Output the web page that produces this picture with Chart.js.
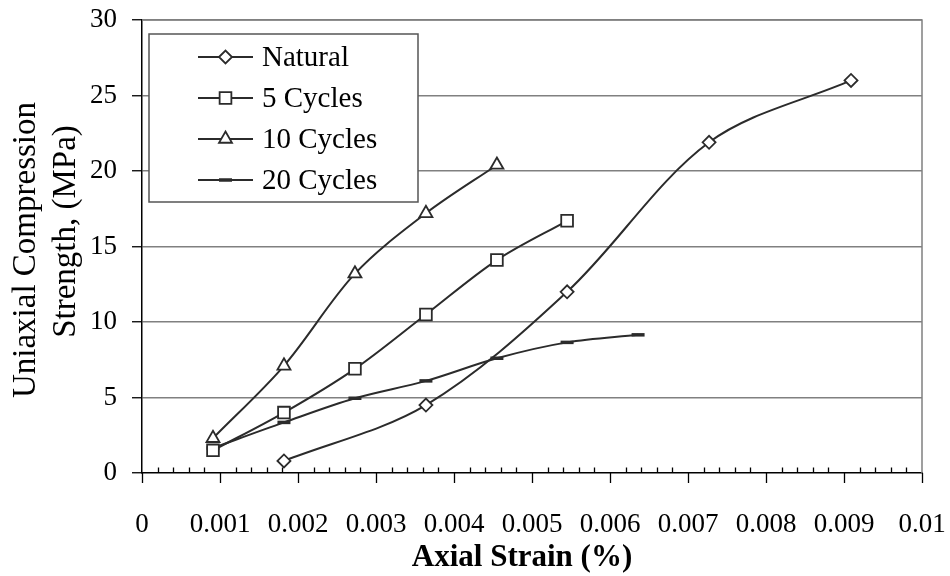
<!DOCTYPE html>
<html>
<head>
<meta charset="utf-8">
<script src="https://cdn.jsdelivr.net/npm/chart.js@4/dist/chart.umd.min.js"></script>
<style>
html,body{margin:0;padding:0;background:#fff;}
#wrap{width:950px;height:576px;position:relative;}
</style>
</head>
<body>
<div id="wrap"><canvas id="c" width="950" height="576"></canvas></div>
<script>
// ---- data ----
const seriesNames = ['Natural', '5 Cycles', '10 Cycles', '20 Cycles'];
const naturalStrain = [0.00182, 0.00364, 0.00545, 0.00727, 0.00909];
const naturalUCS    = [0.8, 4.5, 12.0, 21.9, 26.0];
const cycles5Strain = [0.00091, 0.00182, 0.00273, 0.00364, 0.00455, 0.00545];
const cycles5UCS    = [1.5, 4.0, 6.9, 10.5, 14.1, 16.7];
const cycles10Strain = [0.00091, 0.00182, 0.00273, 0.00364, 0.00455];
const cycles10UCS    = [2.3, 7.1, 13.2, 17.2, 20.4];
const cycles20Strain = [0.00091, 0.00182, 0.00273, 0.00364, 0.00455, 0.00545, 0.00636];
const cycles20UCS    = [1.65, 3.35, 4.95, 6.1, 7.6, 8.65, 9.15];
const xTickValues = [0, 0.001, 0.002, 0.003, 0.004, 0.005, 0.006, 0.007, 0.008, 0.009, 0.01];
const yTickValues = [0, 5, 10, 15, 20, 25, 30];
const xTitle = 'Axial Strain (%)';
const yTitle = ['Uniaxial Compression', 'Strength, (MPa)'];

const SERIF = "'Liberation Serif', 'Times New Roman', serif";
const INK = '#2b2b2b';

function pts(xs, ys) { return xs.map((x, i) => ({ x: x, y: ys[i] })); }

const styles = [
  { pointStyle: 'rectRot', pointRadius: 6.5, pointBorderWidth: 1.8 },
  { pointStyle: 'rect', pointRadius: 8.3, pointBorderWidth: 1.8 },
  { pointStyle: 'triangle', pointRadius: 7.5, pointBorderWidth: 1.8 },
  { pointStyle: 'line', pointRadius: 6.5, pointBorderWidth: 3.5 }
];
const dataPairs = [
  pts(naturalStrain, naturalUCS),
  pts(cycles5Strain, cycles5UCS),
  pts(cycles10Strain, cycles10UCS),
  pts(cycles20Strain, cycles20UCS)
];

const datasets = dataPairs.map((d, i) => Object.assign({
  label: seriesNames[i],
  data: d,
  borderColor: INK,
  borderWidth: 2,
  backgroundColor: '#ffffff',
  pointBackgroundColor: '#ffffff',
  pointBorderColor: INK,
  tension: 0.33,
  fill: false
}, styles[i]));

const decor = {
  id: 'decor',
  afterDraw(chart) {
    const ctx = chart.ctx;
    const ca = chart.chartArea;
    const xs = chart.scales.x;
    ctx.save();
    // top & right frame lines (gray)
    ctx.strokeStyle = '#808080';
    ctx.lineWidth = 1.5;
    ctx.beginPath();
    ctx.moveTo(ca.left, ca.top);
    ctx.lineTo(ca.right, ca.top);
    ctx.lineTo(ca.right, ca.bottom);
    ctx.stroke();
    // x axis ticks: major outward, minor inward
    ctx.strokeStyle = '#000';
    ctx.lineWidth = 1.3;
    ctx.beginPath();
    for (let i = 0; i <= 50; i++) {
      const px = Math.round(xs.getPixelForValue(i * 0.0002)) + 0.5;
      if (i % 5 === 0) {
        ctx.moveTo(px, ca.bottom);
        ctx.lineTo(px, ca.bottom + 10);
      } else {
        ctx.moveTo(px, ca.bottom);
        ctx.lineTo(px, ca.bottom - 5.5);
      }
    }
    ctx.stroke();
    // x title
    ctx.fillStyle = '#000';
    ctx.font = 'bold 31px ' + SERIF;
    ctx.textAlign = 'center';
    ctx.textBaseline = 'alphabetic';
    ctx.fillText(xTitle, 522, 566);
    // y title (two rotated lines)
    ctx.font = '33px ' + SERIF;
    const yLines = [[35, 250], [75, 231.5]];
    yTitle.forEach((t, i) => {
      ctx.save();
      ctx.translate(yLines[i][0], yLines[i][1]);
      ctx.rotate(-Math.PI / 2);
      ctx.fillText(t, 0, 0);
      ctx.restore();
    });

    // legend box
    const bx = 149, by = 34, bw = 269, bh = 168;
    ctx.fillStyle = '#fff';
    ctx.fillRect(bx, by, bw, bh);
    ctx.strokeStyle = '#555';
    ctx.lineWidth = 1.5;
    ctx.strokeRect(bx, by, bw, bh);
    const rows = [57, 98, 139, 180];
    chart.data.datasets.forEach((ds, i) => {
      const y = rows[i];
      ctx.strokeStyle = INK;
      ctx.lineWidth = 2;
      ctx.beginPath();
      ctx.moveTo(198, y);
      ctx.lineTo(253, y);
      ctx.stroke();
      ctx.fillStyle = '#fff';
      ctx.strokeStyle = INK;
      ctx.lineWidth = ds.pointBorderWidth;
      Chart.helpers.drawPoint(ctx, {
        pointStyle: ds.pointStyle,
        radius: ds.pointRadius,
        rotation: 0,
        borderWidth: ds.pointBorderWidth
      }, 225.5, y);
      ctx.fillStyle = '#000';
      ctx.font = '29px ' + SERIF;
      ctx.textAlign = 'left';
      ctx.textBaseline = 'middle';
      ctx.fillText(ds.label, 262, y + 1);
    });
    ctx.restore();
  }
};

new Chart(document.getElementById('c'), {
  type: 'line',
  data: { datasets: datasets },
  options: {
    responsive: false,
    animation: false,
    layout: { padding: { top: 20, right: 28, left: 0, bottom: 0 } },
    plugins: {
      legend: { display: false },
      tooltip: { enabled: false }
    },
    scales: {
      x: {
        type: 'linear',
        min: 0,
        max: 0.01,
        afterFit(scale) { scale.height = 103; scale.paddingLeft = 0; scale.paddingRight = 0; },
        afterBuildTicks(scale) { scale.ticks = xTickValues.map(v => ({ value: v })); },
        ticks: {
          padding: 36,
          color: '#000',
          font: { family: SERIF, size: 27 },
          maxRotation: 0,
          autoSkip: false,
          callback: v => String(Number(v.toFixed(4)))
        },
        grid: { display: true, drawOnChartArea: false, drawTicks: false },
        border: { display: true, color: '#000', width: 1.5 }
      },
      y: {
        type: 'linear',
        min: 0,
        max: 30,
        afterFit(scale) { scale.width = 142; scale.paddingTop = 0; scale.paddingBottom = 0; },
        afterBuildTicks(scale) { scale.ticks = yTickValues.map(v => ({ value: v })); },
        ticks: {
          padding: 15,
          color: '#000',
          font: { family: SERIF, size: 27 }
        },
        grid: {
          color: ctx => (ctx.tick && ctx.tick.value === 0) ? 'rgba(0,0,0,0)' : '#808080',
          lineWidth: 1.5,
          tickLength: 10,
          tickColor: '#000',
          tickWidth: 1.3
        },
        border: { display: true, color: '#000', width: 1.5 }
      }
    }
  },
  plugins: [decor]
});
</script>
</body>
</html>
